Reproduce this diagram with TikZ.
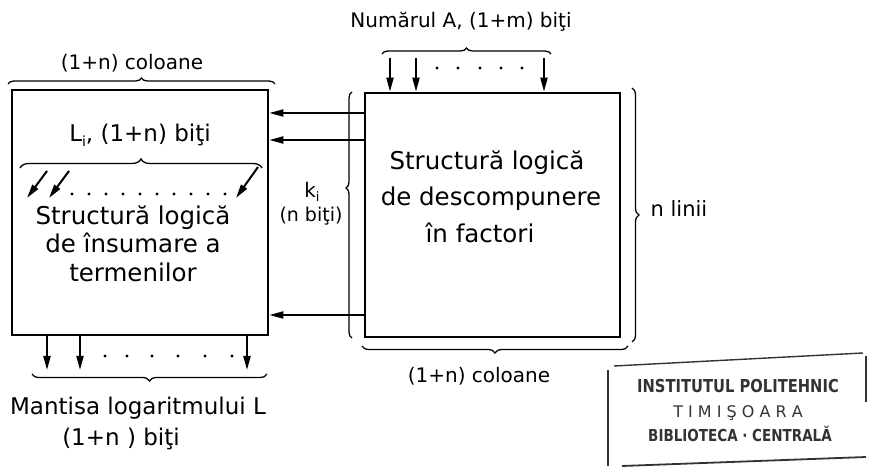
\documentclass[tikz,border=0pt]{standalone}
\usepackage{fontspec}
\setmainfont{DejaVu Sans}
\usetikzlibrary{arrows.meta,decorations.pathreplacing}
\begin{document}
\begin{tikzpicture}[x=1pt,y=-1pt,
  blk/.style={draw, line width=2.6pt, inner sep=0pt},
  arr/.style={line width=2pt, -{Triangle[length=14pt,width=7pt]}},
  brc/.style={decorate, decoration={brace, amplitude=#1}, line width=1.3pt},
  brc/.default=7pt,
  dotmark/.style={circle, fill, inner sep=0pt, minimum size=3.4pt},
  lbl/.style={anchor=base, inner sep=0pt},
  big/.style={lbl, font=\fontsize{24.5}{29}\selectfont},
  mid/.style={lbl, font=\fontsize{20}{24}\selectfont},
  stamp/.style={lbl, text=black!80},
]
\useasboundingbox (0,0) rectangle (871,470);

% blocks
\node[blk, minimum width=256pt, minimum height=245pt] (L) at (140,212.5) {};
\node[blk, minimum width=255pt, minimum height=244pt] (R) at (492.5,215) {};

% top-left brace and label
\draw[brc=6pt] (8,84) -- (275,84);
\node[mid] (tcol) at (132,70) {(1+n) coloane};

% top-right label, brace, input arrows
\node[mid] (tnum) at (461,28) {Numărul A, (1+m) biţi};
\draw[brc=6pt] (382,54) -- (551,54);
\coordinate (a1) at (390,58);
\coordinate (a2) at (416,58);
\coordinate (a3) at (544,58);
\foreach \c in {a1,a2,a3} \draw[arr] (\c) -- (\c |- R.north);
\foreach \x in {437,458,480,501,522} \node[dotmark] at (\x,68) {};

% arrows R -> L
\draw[arr] (R.west |- 0,113) -- (L.east |- 0,113);
\draw[arr] (R.west |- 0,140) -- (L.east |- 0,140);
\draw[arr] (R.west |- 0,315) -- (L.east |- 0,315);

% k_i brace and label
\draw[decorate, decoration={brace, amplitude=6pt, aspect=0.61}, line width=1.3pt] (352,338) -- (352,92);
\node[lbl, font=\fontsize{20}{24}\selectfont] (ki) at (312,198) {k\lower0.35ex\hbox{\fontsize{13}{13}\selectfont i}};
\node[lbl, font=\fontsize{19}{23}\selectfont] (knb) at (311,222) {(n biţi)};

% inside L
\node[lbl, font=\fontsize{23}{27}\selectfont] (li) at (140,142) {L\lower0.35ex\hbox{\fontsize{14}{14}\selectfont i}, (1+n) biţi};
\draw[brc=9pt] (20,168) -- (262,168);
\coordinate (d1s) at (47,171); \coordinate (d1e) at (27,198);
\coordinate (d2s) at (69,171); \coordinate (d2e) at (49,198);
\coordinate (d3s) at (258,167); \coordinate (d3e) at (236,198);
\draw[arr] (d1s) -- (d1e);
\draw[arr] (d2s) -- (d2e);
\draw[arr] (d3s) -- (d3e);
\foreach \x in {72,89,...,225} \node[dotmark] at (\x,194) {};
\node[big] (l1) at (133,225) {Structură logică};
\node[big] (l2) at (133,253) {de însumare a};
\node[big] (l3) at (133,282) {termenilor};

% inside R
\node[big] (r1) at (487,170) {Structură logică};
\node[big] (r2) at (491,206) {de descompunere};
\node[big] (r3) at (480,243) {în factori};

% n linii
\draw[brc=7pt] (632,88) -- (632,342);
\node[lbl, font=\fontsize{21}{25}\selectfont] (nl) at (679,217) {n linii};

% bottom right brace
\draw[brc=7pt] (628,346) -- (362,346);
\node[mid] (bcol) at (479,383) {(1+n) coloane};

% outputs of L
\coordinate (o1) at (47,370);
\coordinate (o2) at (80,370);
\coordinate (o3) at (247,370);
\foreach \c in {o1,o2,o3} \draw[arr] (\c |- L.south) -- (\c);
\foreach \x in {105,127,152,178,205,232} \node[dotmark] at (\x,356) {};
\draw[brc=7pt] (267,374) -- (32,374);
\node[lbl, font=\fontsize{23}{27}\selectfont] (mant) at (138,415) {Mantisa logaritmului L};
\node[lbl, font=\fontsize{23}{27}\selectfont] (mbit) at (121,446) {(1+n ) biţi};

% library stamp
\draw[line width=1.4pt, black!80] (608,370) -- (608,466);
\draw[line width=1.4pt, black!80] (614,366) -- (863,353);
\draw[line width=1.4pt, black!80] (866,356) -- (866,402);
\draw[line width=1.8pt, black!80] (622,466) -- (866,457);
\node[stamp, font=\bfseries\fontsize{15.5}{18}\selectfont] (s1) at (738,393) {\scalebox{0.95}[1.15]{INSTITUTUL POLITEHNIC}};
\node[stamp, font=\fontsize{16}{18}\selectfont] (s2) at (738,418) {T I M I Ş O A R A};
\node[stamp, font=\bfseries\fontsize{15}{18}\selectfont] (s3) at (740,442) {\scalebox{0.9}[1.1]{BIBLIOTECA · CENTRALĂ}};
\end{tikzpicture}
\end{document}
